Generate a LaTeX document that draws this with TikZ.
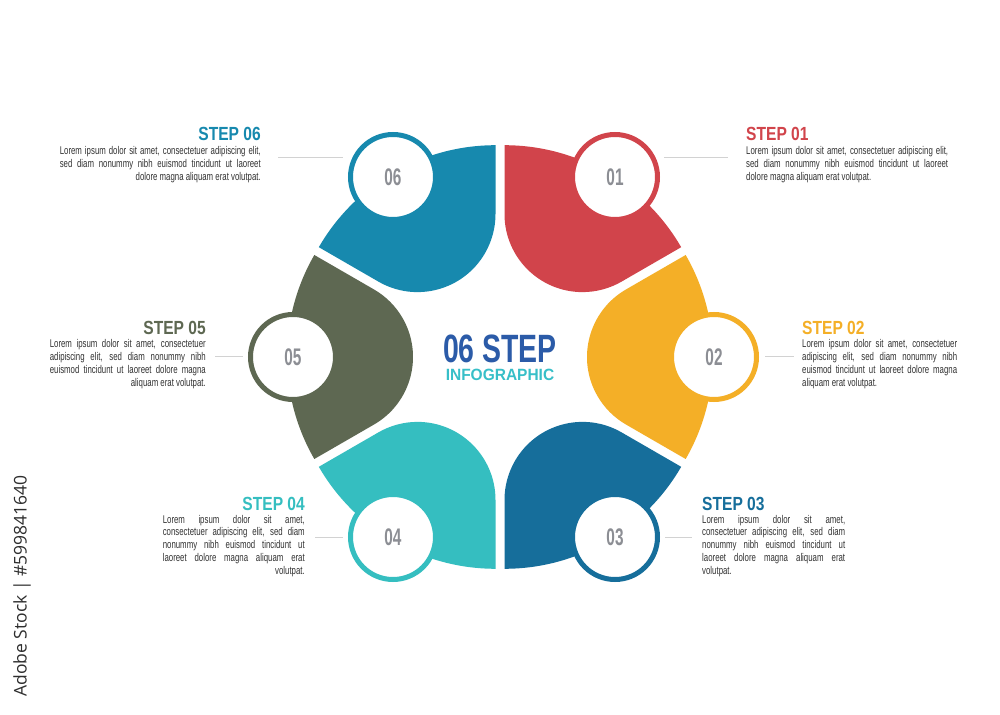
\documentclass[tikz,border=0pt]{standalone}
\usepackage{fontspec}
\usetikzlibrary{positioning}
\newfontfamily\bodyfont[FakeStretch=0.70]{Liberation Sans}
\newfontfamily\headfont[FakeStretch=0.82]{Liberation Sans}
\newfontfamily\bigfont[FakeStretch=0.72]{Liberation Sans}
\newfontfamily\subfont[FakeStretch=0.95]{Liberation Sans}
\newfontfamily\numfont[FakeStretch=0.64]{Liberation Sans}
\newfontfamily\stockfont{Open Sans}
\definecolor{stepred}{HTML}{D1444B}
\definecolor{stepyellow}{HTML}{F4AF27}
\definecolor{stepnavy}{HTML}{166E9B}
\definecolor{stepteal}{HTML}{35BEC0}
\definecolor{stepolive}{HTML}{5E6852}
\definecolor{stepblue}{HTML}{1789AE}
\definecolor{headblue}{HTML}{2B5BA8}
\definecolor{subteal}{HTML}{37BFC8}
\definecolor{numgray}{HTML}{8C8E94}
\definecolor{bodygray}{HTML}{333333}
\definecolor{leadgray}{HTML}{D2D2D2}
\definecolor{stockgray}{HTML}{2E2E2E}
% one petal: mid angle, colour (pushed out a little to leave the gaps)
\newcommand{\petal}[2]{%
  \fill[#2, shift={(#1:9)}] (#1+30:204) -- (#1+30:135.1)
    arc[start angle=#1+120, end angle=#1+240, radius=78]
    -- (#1-30:204) arc[start angle=#1-30, end angle=#1+30, radius=204] -- cycle;}

\begin{document}
\begin{tikzpicture}[x=1pt, y=1pt,
    badge/.style={circle, draw=#1, line width=5pt, fill=white, minimum size=85pt,
      inner sep=0pt, text=numgray, font=\numfont\bfseries\fontsize{24}{24}\selectfont},
    steptitle/.style={text=#1, inner sep=0pt, font=\headfont\bfseries\fontsize{19}{19}\selectfont},
    stepbody/.style={text width=#1, align=justify, inner sep=0pt, text=bodygray,
      font=\bodyfont\fontsize{11.2}{12.9}\selectfont},
    leader/.style={draw=leadgray, line width=1pt}]
  \fill[white] (-500,-357) rectangle (500,357);
  \useasboundingbox (-500,-357) rectangle (500,357);

  % petals
  \petal{60}{stepred}
  \petal{0}{stepyellow}
  \petal{-60}{stepnavy}
  \petal{-120}{stepteal}
  \petal{180}{stepolive}
  \petal{120}{stepblue}

  % badges
  \node[badge=stepred] (b1) at (115,180) {01};
  \node[badge=stepyellow] (b2) at (214,0) {02};
  \node[badge=stepnavy] (b3) at (115,-180) {03};
  \node[badge=stepteal] (b4) at (-107,-180) {04};
  \node[badge=stepolive] (b5) at (-207,0) {05};
  \node[badge=stepblue] (b6) at (-107,180) {06};

  % centre title
  \node[anchor=north, inner sep=0pt, align=center,
    font=\bfseries\fontsize{39.5}{17.9}\selectfont] (head) at (0,22.6)
    {\bigfont\color{headblue}06 STEP\\
     \subfont\fontsize{16.3}{17.9}\selectfont\color{subteal}INFOGRAPHIC};

  % step 01
  \node[steptitle=stepred, anchor=base west] (t1) at (246,216) {STEP 01};
  \node[stepbody=202pt, anchor=base west] (d1) at (246,202.5)
    {Lorem ipsum dolor sit amet, consectetuer adipiscing elit,\linebreak
     sed diam nonummy nibh euismod tincidunt ut laoreet\linebreak
     dolore magna aliquam erat volutpat.};
  % step 02
  \node[steptitle=stepyellow, anchor=base west] (t2) at (302,22) {STEP 02};
  \node[stepbody=155pt, anchor=base west] (d2) at (302,9)
    {Lorem ipsum dolor sit amet, consectetuer\linebreak
     adipiscing elit, sed diam nonummy nibh\linebreak
     euismod tincidunt ut laoreet dolore magna\linebreak
     aliquam erat volutpat.};
  % step 03
  \node[steptitle=stepnavy, anchor=base west] (t3) at (202,-153) {STEP 03};
  \node[stepbody=143pt, anchor=base west] (d3) at (202,-166)
    {Lorem ipsum dolor sit amet,\linebreak
     consectetuer adipiscing elit, sed diam\linebreak
     nonummy nibh euismod tincidunt ut\linebreak
     laoreet dolore magna aliquam erat\linebreak
     volutpat.};
  % step 04
  \node[steptitle=stepteal, anchor=base east] (t4) at (-195,-153) {STEP 04};
  \node[stepbody=142pt, anchor=base east] (d4) at (-195,-166)
    {Lorem ipsum dolor sit amet,\linebreak
     consectetuer adipiscing elit, sed diam\linebreak
     nonummy nibh euismod tincidunt ut\linebreak
     laoreet dolore magna aliquam erat\linebreak
     \hspace*{\fill}volutpat.};
  % step 05
  \node[steptitle=stepolive, anchor=base east] (t5) at (-294,22) {STEP 05};
  \node[stepbody=156pt, anchor=base east] (d5) at (-294,9)
    {Lorem ipsum dolor sit amet, consectetuer\linebreak
     adipiscing elit, sed diam nonummy nibh\linebreak
     euismod tincidunt ut laoreet dolore magna\linebreak
     \hspace*{\fill}aliquam erat volutpat.};
  % step 06
  \node[steptitle=stepblue, anchor=base east] (t6) at (-239,216) {STEP 06};
  \node[stepbody=201pt, anchor=base east] (d6) at (-239,202.5)
    {Lorem ipsum dolor sit amet, consectetuer adipiscing elit,\linebreak
     sed diam nonummy nibh euismod tincidunt ut laoreet\linebreak
     \hspace*{\fill}dolore magna aliquam erat volutpat.};

  % leader lines
  \coordinate (l1a) at (164,199); \coordinate (l1b) at (228,199);
  \coordinate (l2a) at (265,0);   \coordinate (l2b) at (294,0);
  \coordinate (l3a) at (165,-180); \coordinate (l3b) at (192,-180);
  \coordinate (l4a) at (-157,-180); \coordinate (l4b) at (-185,-180);
  \coordinate (l5a) at (-257,0);  \coordinate (l5b) at (-285,0);
  \coordinate (l6a) at (-157,199); \coordinate (l6b) at (-222,199);
  \draw[leader] (l1a) -- (l1b);
  \draw[leader] (l2a) -- (l2b);
  \draw[leader] (l3a) -- (l3b);
  \draw[leader] (l4a) -- (l4b);
  \draw[leader] (l5a) -- (l5b);
  \draw[leader] (l6a) -- (l6b);

  % side mark
  \node[rotate=90, inner sep=0pt, text=stockgray,
    font=\stockfont\fontsize{17.5}{17.5}\selectfont] (stock) at (-478,-229)
    {Adobe Stock | \#599841640};
\end{tikzpicture}
\end{document}
